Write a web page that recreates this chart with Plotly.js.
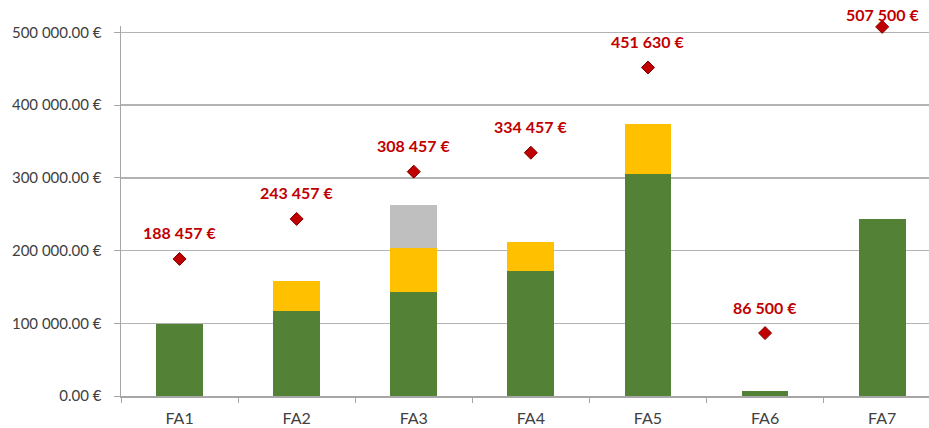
<!DOCTYPE html>
<html><head><meta charset="utf-8">
<script src="https://cdn.plot.ly/plotly-3.0.1.min.js"></script>
<style>html,body{margin:0;padding:0;background:#fff}#chart{width:929px;height:428px}</style>
</head><body><div id="chart"></div>
<script>
const categories = ["FA1","FA2","FA3","FA4","FA5","FA6","FA7"];
const greenValues = [98500, 117500, 143500, 172000, 305500, 6500, 243500];
const yellowValues = [0, 41000, 60500, 40000, 68500, 0, 0];
const greyValues = [0, 0, 58500, 0, 0, 0, 0];
const targetValues = [188457, 243457, 308457, 334457, 451630, 86500, 507500];

function fmt(v){ return String(v).replace(/\B(?=(\d{3})+(?!\d))/g, " ") + " €"; }

const barW = 0.4;
const yMax = 508700;
const traces = [
  {type:"bar", x:categories, y:greenValues, width:barW, marker:{color:"#538135"}, hoverinfo:"skip"},
  {type:"bar", x:categories, y:yellowValues, width:barW, marker:{color:"#FFC000"}, hoverinfo:"skip"},
  {type:"bar", x:categories, y:greyValues, width:barW, marker:{color:"#BFBFBF"}, hoverinfo:"skip"},
  {type:"scatter", mode:"markers", x:categories, y:targetValues, cliponaxis:false,
   marker:{symbol:"diamond", size:10, color:"#C00000", line:{color:"#7F0000", width:1}}, hoverinfo:"skip"}
];

// labels sit 26px above their marker, except when that would push them off the top
const annotations = categories.map((c,i)=>({
  x:c, y:targetValues[i], xref:"x", yref:"y", text:fmt(targetValues[i]),
  showarrow:false, yshift: targetValues[i] > 0.95*yMax ? 12 : 26,
  font:{family:"Lato, 'Open Sans', sans-serif", size:16, color:"#C00000", weight:700}
}));

const layout = {
  width:929, height:428,
  margin:{l:121, r:0, t:26, b:32},
  paper_bgcolor:"#fff", plot_bgcolor:"#fff",
  barmode:"stack", showlegend:false,
  separators:". ",
  font:{family:"Lato, 'Open Sans', sans-serif", size:16, color:"#404040"},
  xaxis:{type:"category", range:[-0.5, 6.4], showgrid:false, showline:true, linecolor:"#A6A6A6", linewidth:1.5,
         ticks:"outside", tickson:"boundaries", ticklen:5, tickcolor:"#A6A6A6", fixedrange:true,
         ticklabelstandoff:7, tickfont:{size:16, color:"#404040"}},
  yaxis:{range:[0, yMax], tick0:0, dtick:100000, tickformat:",.2f", ticksuffix:" €",
         showgrid:true, gridcolor:"#B3B3B3", gridwidth:1.5, zeroline:false,
         showline:true, linecolor:"#A6A6A6", linewidth:1.5, ticks:"outside", ticklen:6, tickcolor:"#A6A6A6",
         ticklabelstandoff:9, tickfont:{size:15, color:"#404040"}, fixedrange:true},
  annotations:annotations
};
Plotly.newPlot("chart", traces, layout, {displayModeBar:false, staticPlot:true});
</script>
</body></html>
